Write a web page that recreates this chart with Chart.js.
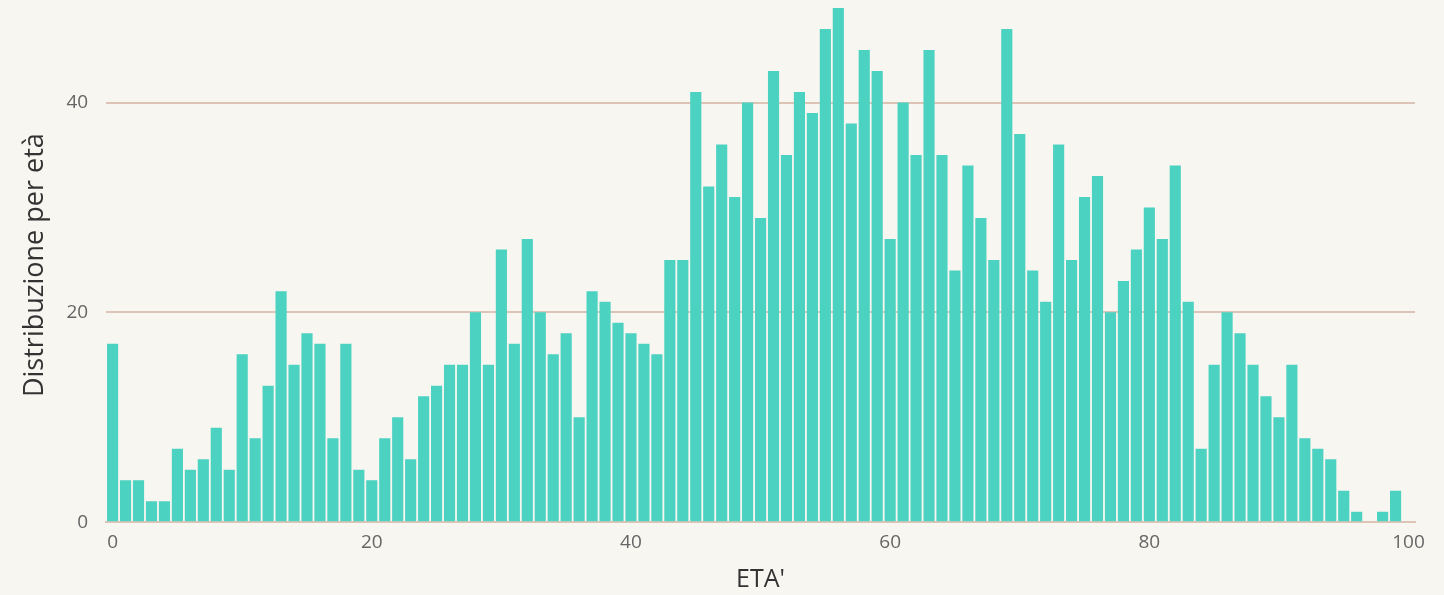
<!DOCTYPE html>
<html>
<head>
<meta charset="utf-8">
<title>Distribuzione per età</title>
<script src="https://cdn.jsdelivr.net/npm/chart.js@4.4.2/dist/chart.umd.min.js"></script>
<style>
html, body {
    margin: 0;
    padding: 0;
    background: #f8f6f1;
}
#wrap {
    width: 1444px;
    height: 595px;
}
</style>
</head>
<body>
<div id="wrap">
    <canvas id="chart"></canvas>
</div>
<script>
// age (years) and number of people of that age
const ages = [
    0, 1, 2, 3, 4, 5, 6, 7, 8, 9,
    10, 11, 12, 13, 14, 15, 16, 17, 18, 19,
    20, 21, 22, 23, 24, 25, 26, 27, 28, 29,
    30, 31, 32, 33, 34, 35, 36, 37, 38, 39,
    40, 41, 42, 43, 44, 45, 46, 47, 48, 49,
    50, 51, 52, 53, 54, 55, 56, 57, 58, 59,
    60, 61, 62, 63, 64, 65, 66, 67, 68, 69,
    70, 71, 72, 73, 74, 75, 76, 77, 78, 79,
    80, 81, 82, 83, 84, 85, 86, 87, 88, 89,
    90, 91, 92, 93, 94, 95, 96, 97, 98, 99
];
const counts = [
    17, 4, 4, 2, 2, 7, 5, 6, 9, 5,
    16, 8, 13, 22, 15, 18, 17, 8, 17, 5,
    4, 8, 10, 6, 12, 13, 15, 15, 20, 15,
    26, 17, 27, 20, 16, 18, 10, 22, 21, 19,
    18, 17, 16, 25, 25, 41, 32, 36, 31, 40,
    29, 43, 35, 41, 39, 47, 49, 38, 45, 43,
    27, 40, 35, 45, 35, 24, 34, 29, 25, 47,
    37, 24, 21, 36, 25, 31, 33, 20, 23, 26,
    30, 27, 34, 21, 7, 15, 20, 18, 15, 12,
    10, 15, 8, 7, 6, 3, 1, 0, 1, 3
];
const xTicks = [0, 20, 40, 60, 80, 100];
const yTicks = [0, 20, 40];

const lineColor = "#dcc5b6";
const textFont = "'Open Sans', 'Noto Sans', sans-serif";

const ctx = document.getElementById("chart").getContext("2d");
const chart = new Chart(ctx, {
    type: "bar",
    data: {
        datasets: [{
            label: "Distribuzione per età",
            data: ages.map((a, i) => ({x: a, y: counts[i]})),
            backgroundColor: "#4bd2c1",
            borderWidth: 0,
            barPercentage: 0.86,
            categoryPercentage: 1
        }]
    },
    options: {
        responsive: true,
        maintainAspectRatio: false,
        animation: false,
        layout: {
            padding: {top: 0, right: 29, left: 19, bottom: 0}
        },
        plugins: {
            legend: {display: false},
            tooltip: {enabled: false}
        },
        scales: {
            x: {
                type: "linear",
                min: -0.5,
                max: 100.5,
                offset: false,
                grid: {display: false},
                border: {display: true, color: lineColor, width: 2},
                afterBuildTicks: axis => {
                    axis.ticks = xTicks.map(v => ({value: v}));
                },
                ticks: {
                    includeBounds: false,
                    color: "#666",
                    padding: 1,
                    font: {family: textFont, size: 19}
                },
                title: {
                    display: true,
                    text: "ETA'",
                    color: "#333",
                    padding: {top: 10, bottom: 0},
                    font: {family: textFont, size: 25}
                }
            },
            y: {
                min: 0,
                max: 49,
                afterBuildTicks: axis => {
                    axis.ticks = yTicks.map(v => ({value: v}));
                },
                grid: {
                    color: lineColor,
                    lineWidth: 2,
                    drawTicks: true,
                    tickLength: 18,
                    tickColor: "rgba(0,0,0,0)"
                },
                border: {display: false},
                ticks: {
                    includeBounds: false,
                    color: "#666",
                    padding: 0,
                    font: {family: textFont, size: 19, lineHeight: 0.85}
                },
                title: {
                    display: true,
                    text: "Distribuzione per età",
                    color: "#333",
                    padding: {top: 0, bottom: 15},
                    font: {family: textFont, size: 27}
                }
            }
        }
    }
});
</script>
</body>
</html>
